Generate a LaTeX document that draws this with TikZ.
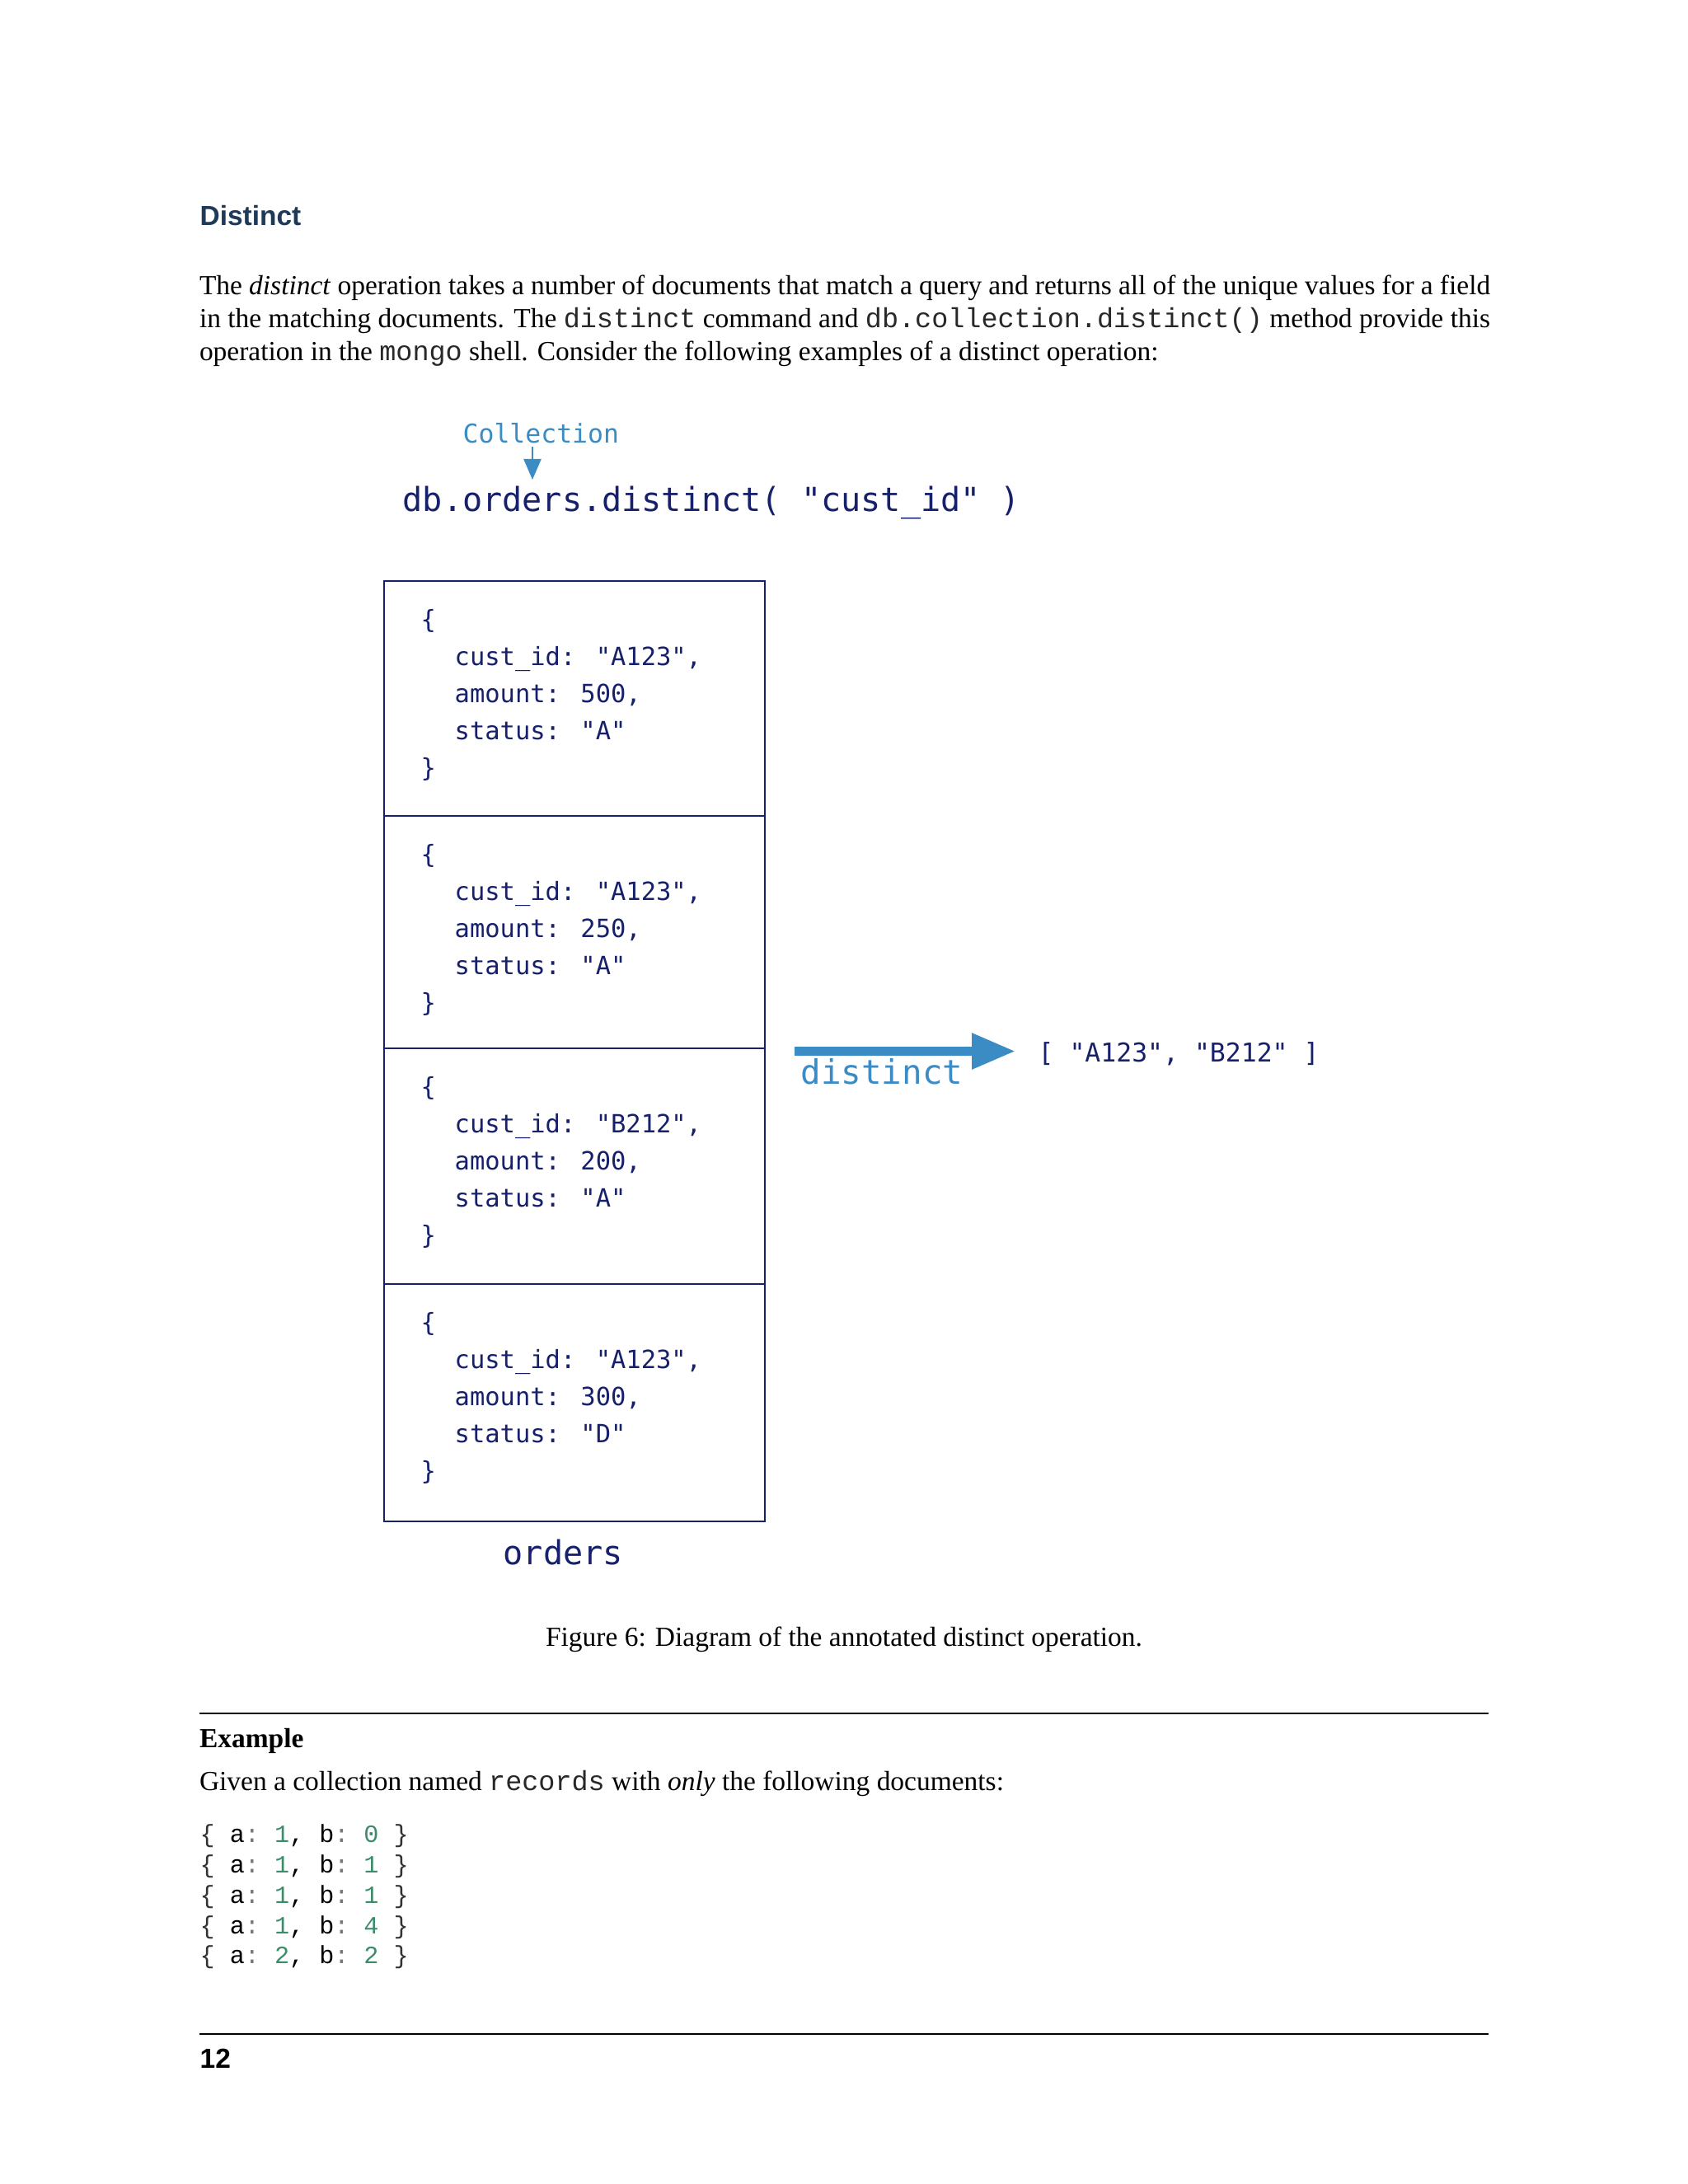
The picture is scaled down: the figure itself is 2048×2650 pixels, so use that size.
\documentclass[tikz,border=0pt]{standalone}
\usepackage{fontspec}
\setmainfont{Liberation Serif}
\setsansfont{Liberation Sans}
\setmonofont{Liberation Mono}
\newfontfamily\dmono{DejaVu Sans Mono}
\usetikzlibrary{arrows.meta}
\definecolor{navy}{RGB}{23,32,107}
\definecolor{lblue}{RGB}{59,139,197}
\definecolor{headblue}{RGB}{30,58,88}
\definecolor{numgreen}{RGB}{60,140,105}
\definecolor{opgray}{RGB}{120,120,120}
\definecolor{bracegray}{RGB}{50,50,50}
\definecolor{inlinegray}{RGB}{40,40,40}
\newcommand\codeln[2]{{\color{bracegray}\{} a{\color{opgray}:} {\color{numgreen}#1}, b{\color{opgray}:} {\color{numgreen}#2} {\color{bracegray}\}}}
\newcommand\ilc[1]{{\color{inlinegray}\texttt{#1}}}
\begin{document}
\begin{tikzpicture}[x=0.29883pt,y=-0.29883pt,
  body/.style={anchor=base west, inner sep=0pt, outer sep=0pt, font=\fontsize{10}{12}\selectfont},
  head/.style={anchor=base west, inner sep=0pt, text=headblue, font=\sffamily\bfseries\fontsize{10}{12}\selectfont},
  dtitle/.style={anchor=base west, inner sep=0pt, text=navy, font=\dmono\fontsize{12}{14}\selectfont},
  doc/.style={anchor=base west, inner sep=0pt, text=navy, font=\dmono\fontsize{9.1}{11}\selectfont},
  note/.style={anchor=base west, inner sep=0pt, text=lblue, font=\dmono\fontsize{9.4}{11}\selectfont},
  bignote/.style={anchor=base west, inner sep=0pt, text=lblue, font=\dmono\fontsize{12.2}{14}\selectfont},
  code/.style={anchor=base west, inner sep=0pt, font=\ttfamily\fontsize{9}{11}\selectfont},
  rulel/.style={line width=0.6pt, black},
  boxl/.style={line width=0.6pt, draw=navy}
]
\useasboundingbox (0,0) rectangle (2048,2650);
\fill[white] (0,0) rectangle (2048,2650);

% heading and paragraph
\node[head] (h) at (242,273) {Distinct};
\node[body] (p1) at (242,357) {\hbox to 468pt{The \textit{distinct} operation takes a number of documents that match a query and returns all of the unique values for a field}};
\node[body] (p2) at (242,397) {\hbox to 468pt{in the matching documents. The \ilc{distinct} command and \ilc{db.collection.distinct()} method provide this}};
\node[body] (p3) at (242,437) {operation in the \ilc{mongo} shell. Consider the following examples of a distinct operation:};

% diagram
\node[note] (coll) at (561,537) {Collection};
\node[dtitle] (title) at (488,620) {db.orders.distinct( "cust\_id" )};
\coordinate (ca) at (646,542);
\coordinate (cb) at (646,582);
\draw[lblue, line width=0.6pt, -{Triangle[length=7.5pt,width=6.3pt]}] (ca) -- (cb);

\draw[boxl] (466,705) rectangle (928,1846);
\draw[boxl] (466,990) -- (928,990);
\draw[boxl] (466,1272) -- (928,1272);
\draw[boxl] (466,1558) -- (928,1558);

\foreach \off/\id/\amt/\st [count=\k] in {0/A123/500/A, 285/A123/250/A, 567/B212/200/A, 853/A123/300/D}{
  \node[doc] (o\k) at (510,762+\off) {\{};
  \node[doc] (c\k) at (551,807+\off) {cust\_id: "\id",};
  \node[doc] (a\k) at (551,852+\off) {amount: \amt,};
  \node[doc] (s\k) at (551,897+\off) {status: "\st"};
  \node[doc] (e\k) at (510,942+\off) {\}};
}
\node[dtitle] (orders) at (610,1898) {orders};

\coordinate (as) at (964,1275.5);
\coordinate (ae) at (1232,1275.5);
\draw[lblue, line width=3.3pt, -{Triangle[length=15.8pt,width=12.3pt]}] (as) -- (ae);
\node[bignote] (dl) at (971,1315) {distinct};
\node[doc, font=\dmono\fontsize{9.4}{11}\selectfont] (res) at (1259,1288) {[ "A123", "B212" ]};

\node[anchor=base, inner sep=0pt, font=\fontsize{10}{12}\selectfont] (cap) at (1024,1997) {Figure 6: Diagram of the annotated distinct operation.};

% example
\draw[rulel] (242,2079) -- (1806,2079);
\node[body, font=\bfseries\fontsize{10}{12}\selectfont] (ex) at (242,2120) {Example};
\node[body] (g) at (242,2172) {Given a collection named \ilc{records} with \textit{only} the following documents:};
\node[code] (l1) at (242,2235) {\codeln{1}{0}};
\node[code] (l2) at (242,2272) {\codeln{1}{1}};
\node[code] (l3) at (242,2309) {\codeln{1}{1}};
\node[code] (l4) at (242,2346) {\codeln{1}{4}};
\node[code] (l5) at (242,2382) {\codeln{2}{2}};

\draw[rulel] (242,2468) -- (1806,2468);
\node[anchor=base west, inner sep=0pt, font=\sffamily\bfseries\fontsize{10}{12}\selectfont] (pg) at (242,2509) {12};
\end{tikzpicture}
\end{document}
